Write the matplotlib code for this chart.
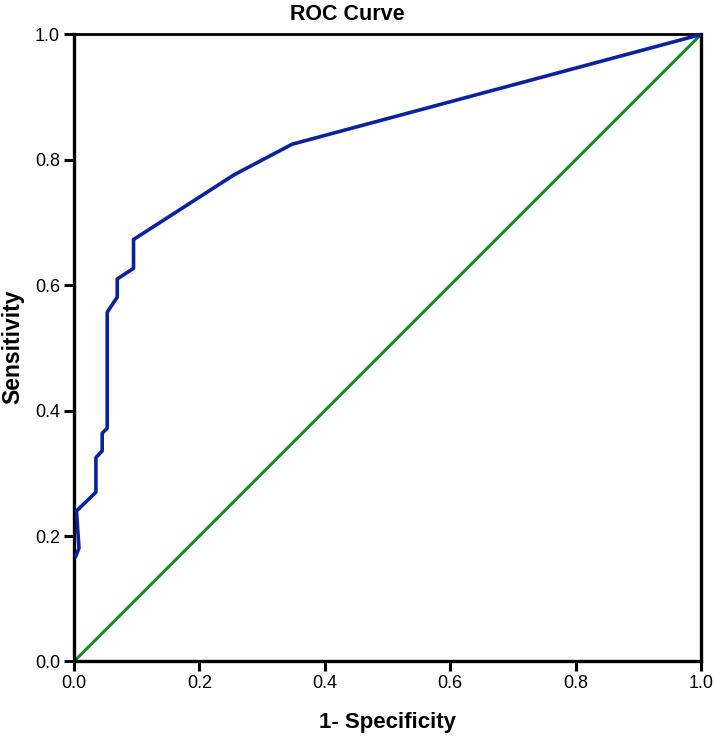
import matplotlib
matplotlib.use("Agg")
import matplotlib.pyplot as plt

plt.rcParams['font.family'] = ['Liberation Sans', 'DejaVu Sans']

# ROC curve points
fpr = [0.003, 0.008, 0.004, 0.035, 0.035, 0.045, 0.045, 0.053, 0.053,
       0.069, 0.069, 0.095, 0.095, 0.255, 0.348, 1.0]
tpr = [0.168, 0.181, 0.240, 0.270, 0.325, 0.336, 0.364, 0.372, 0.557,
       0.581, 0.610, 0.627, 0.673, 0.776, 0.825, 1.0]
ref_x = [0.0, 1.0]
ref_y = [0.0, 1.0]
ticks = [0.0, 0.2, 0.4, 0.6, 0.8, 1.0]

fig = plt.figure(figsize=(7.14, 7.38), dpi=100)
ax = fig.add_axes([0.1036, 0.1037, 0.8782, 0.8496])

ax.plot(ref_x, ref_y, color='#148c28', lw=2.2, zorder=2)
ax.plot(fpr, tpr, color='#0a22a0', lw=2.6, zorder=3)

ax.set_xlim(0, 1)
ax.set_ylim(0, 1)
ax.set_xticks(ticks)
ax.set_yticks(ticks)
ax.set_xticklabels([f"{t:.1f}" for t in ticks])
ax.set_yticklabels([f"{t:.1f}" for t in ticks])
ax.tick_params(direction='out', length=7, width=2.2, labelsize=13, pad=3)

for s in ax.spines.values():
    s.set_linewidth(2.4)
ax.spines['top'].set_linewidth(2.0)

# title sits a bit left of the axes centre in the original
fig.text(347 / 714, 1 - 15 / 738, 'ROC Curve', fontsize=15.5, fontweight='bold',
         ha='center', va='center')
ax.set_xlabel('1- Specificity', fontsize=16, fontweight='bold', labelpad=14)
fig.text(13 / 714, 1 - 347 / 738, 'Sensitivity', fontsize=16.5, fontweight='bold',
         rotation=90, ha='center', va='center')

fig.savefig('out.png', dpi=100)
